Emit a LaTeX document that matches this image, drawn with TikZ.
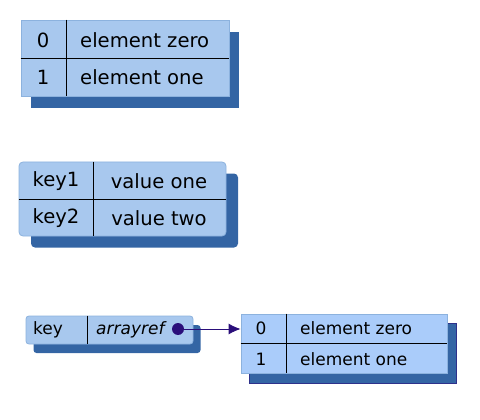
\documentclass[tikz,border=0pt]{standalone}
\usepackage{fontspec}
\setmainfont{DejaVu Sans}
\usetikzlibrary{arrows.meta}
\definecolor{cellfill}{RGB}{168,200,238}
\definecolor{cellrefill}{RGB}{170,204,250}
\definecolor{celledge}{RGB}{140,178,222}
\definecolor{shadowblue}{RGB}{52,101,164}
\definecolor{refpurple}{RGB}{42,14,122}
\tikzset{
  cellbox/.style={rectangle, fill=cellfill, draw=celledge, line width=0.8pt, inner sep=0pt},
  shadowbox/.style={rectangle, fill=shadowblue, inner sep=0pt},
  divider/.style={black, line width=0.9pt},
  bigtext/.style={font=\fontsize{19.6}{22}\selectfont, inner sep=0pt},
  smalltext/.style={font=\fontsize{17}{19}\selectfont, inner sep=0pt},
}

\begin{document}
\begin{tikzpicture}[x=1pt, y=-1pt]
                    \useasboundingbox (0,0) rectangle (480,420);
                    % Array, top:
                    \node[shadowbox, minimum width=208pt, minimum height=76pt] (arrShadow) at (135,70) {};
                    \node[cellbox, minimum width=208pt, minimum height=76pt] (arr) at (125,58) {};
                    \coordinate (arrCol) at (66,58);
                    \draw[divider] (arr.west) -- (arr.east);
                    \draw[divider] (arrCol |- arr.north) -- (arrCol |- arr.south);
                    \node[bigtext] (arrIdxA) at (43,40) {0};
                    \node[bigtext] (arrIdxB) at (43,77) {1};
                    \node[bigtext, anchor=west] (arrValA) at (80,40) {element zero};
                    \node[bigtext, anchor=west] (arrValB) at (80,77) {element one};
                    % Hash, middle:
                    \node[shadowbox, rounded corners=4pt, minimum width=207pt, minimum height=74pt] (hashShadow) at (134.5,210.5) {};
                    \node[cellbox, rounded corners=4pt, minimum width=207pt, minimum height=74pt] (hash) at (122.5,199) {};
                    \coordinate (hashCol) at (93,199);
                    \draw[divider] (hash.west) -- (hash.east);
                    \draw[divider] (hashCol |- hash.north) -- (hashCol |- hash.south);
                    \node[bigtext] (hashKeyA) at (56,181) {key1};
                    \node[bigtext] (hashKeyB) at (56,218) {key2};
                    \node[bigtext] (hashValA) at (159,181) {value one};
                    \node[bigtext] (hashValB) at (159,218) {value two};
                    % Hash entry holding a reference, bottom left:
                    \node[shadowbox, rounded corners=3pt, minimum width=167pt, minimum height=28pt] (refShadow) at (117,339) {};
                    \node[cellbox, rounded corners=3pt, minimum width=167pt, minimum height=28pt] (ref) at (109.5,330) {};
                    \coordinate (refCol) at (87,330);
                    \draw[divider] (refCol |- ref.north) -- (refCol |- ref.south);
                    \node[smalltext, anchor=west] (refKey) at (33,330) {key};
                    \node[smalltext, anchor=west] (refVal) at (96,330) {\itshape arrayref};
                    \node[circle, fill=refpurple, minimum size=12pt, inner sep=0pt] (refDot) at (178,329) {};
                    % Referenced array, bottom right:
                    \node[shadowbox, draw=refpurple!60!shadowblue, line width=0.8pt, minimum width=207pt, minimum height=60pt] (subShadow) at (352.5,353.5) {};
                    \node[cellbox, fill=cellrefill, minimum width=206pt, minimum height=59pt] (sub) at (344,343.5) {};
                    \coordinate (subCol) at (286,343.5);
                    \draw[divider] (sub.west) -- (sub.east);
                    \draw[divider] (subCol |- sub.north) -- (subCol |- sub.south);
                    \node[smalltext] (subIdxA) at (261,328) {0};
                    \node[smalltext] (subIdxB) at (261,359) {1};
                    \node[smalltext, anchor=west] (subValA) at (300,328) {element zero};
                    \node[smalltext, anchor=west] (subValB) at (300,359) {element one};
                    \draw[refpurple, line width=0.9pt, -{Latex[length=12pt, width=11pt]}] (refDot.center) -- (refDot.center -| sub.west);
                \end{tikzpicture}
\end{document}
